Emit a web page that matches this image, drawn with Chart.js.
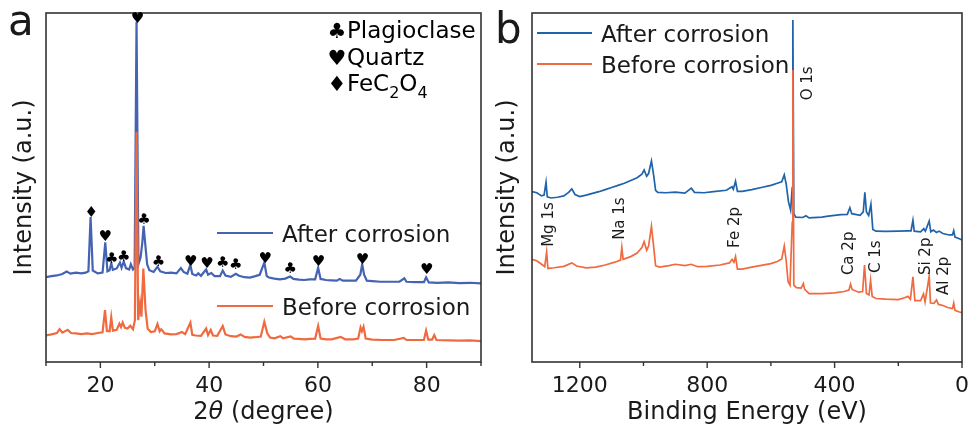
<!DOCTYPE html>
<html>
<head>
<meta charset="utf-8">
<script src="https://cdn.jsdelivr.net/npm/chart.js@4.4.1/dist/chart.umd.min.js"></script>
<style>
  html, body { margin: 0; padding: 0; background: #fff; }
  #wrap { position: relative; width: 972px; height: 425px; overflow: hidden; }
  .panel { position: absolute; top: 0; width: 486px; height: 425px; }
</style>
</head>
<body>
<div id="wrap">
  <div class="panel" style="left:0"><canvas id="xrd" width="486" height="425"></canvas></div>
  <div class="panel" style="left:486px"><canvas id="xps" width="486" height="425"></canvas></div>
</div>
<script>
// ---- (a) XRD data, 2theta (degree) vs intensity (a.u., offset traces)
const xrdAfterX = [10, 11, 12, 13, 13.8, 14.5, 15.5, 16.5, 17.3, 17.8, 18.2, 18.6, 19.5, 20.4, 20.9, 21.3, 21.7, 22.0, 22.3, 23.0,
  23.6, 23.9, 24.3, 24.7, 25.3, 25.6, 26.0, 26.3, 26.65, 27.0, 27.4, 27.7, 27.95, 28.3, 28.6, 29.0, 29.8, 30.5, 31.0, 32.0,
  33.0, 34.0, 34.8, 35.3, 36.0, 36.55, 36.9, 37.6, 38.0, 38.5, 39.45, 39.8, 40.4, 41.0, 42.0, 42.5, 43.0, 44.0, 44.9, 45.5,
  46.5, 47.5, 48.5, 49.3, 50.15, 50.6, 51.0, 52.0, 53.0, 54.0, 54.9, 55.5, 56.5, 57.5, 58.5, 59.5, 60.05, 60.5, 61.5, 62.5,
  63.5, 64.0, 64.6, 66.0, 67.0, 67.8, 68.15, 68.5, 69.0, 70.0, 71.5, 73.0, 75.0, 75.9, 76.3, 78.0, 79.5, 79.9, 80.4, 82.0,
  84.0, 86.0, 88.0, 90.0];
const xrdAfterY = [24.3, 24.6, 24.8, 25.2, 25.9, 25.3, 25.6, 25.4, 25.6, 26.0, 41.5, 26.2, 25.4, 25.6, 34.3, 26.0, 26.3, 28.3, 26.4, 26.8,
  28.5, 27.0, 28.8, 26.9, 26.5, 28.0, 26.5, 27.0, 97.5, 28.0, 30.0, 34.0, 39.0, 33.0, 28.0, 26.3, 25.8, 27.3, 26.0, 25.5,
  25.6, 25.4, 26.9, 25.8, 25.3, 27.8, 25.2, 24.8, 25.4, 24.7, 26.5, 25.0, 25.5, 24.6, 24.6, 26.2, 24.8, 24.4, 25.3, 24.7,
  24.3, 24.2, 24.6, 25.0, 28.5, 24.6, 24.2, 23.9, 23.7, 23.9, 24.5, 23.8, 23.6, 23.5, 23.7, 23.7, 27.0, 23.8, 23.5, 23.4,
  23.3, 23.8, 23.3, 23.3, 23.3, 25.0, 28.0, 25.0, 23.3, 23.2, 23.0, 23.0, 23.0, 24.0, 23.0, 22.9, 22.9, 24.3, 22.8, 22.7,
  22.8, 22.6, 22.7, 22.5];
const xrdBeforeX = [10, 11, 12, 12.5, 13.0, 14.0, 14.6, 15.5, 16.5, 17.5, 18.5, 19.5, 20.4, 20.85, 21.2, 21.7, 22.0, 22.3, 23.0, 23.5,
  23.8, 24.1, 24.5, 25.0, 25.5, 26.0, 26.35, 26.65, 26.95, 27.3, 27.55, 27.9, 28.3, 28.7, 29.3, 30.0, 30.5, 30.9, 31.2, 31.8,
  33.0, 34.0, 35.0, 35.6, 36.55, 36.9, 37.5, 38.5, 39.45, 39.8, 40.3, 40.7, 41.5, 42.5, 43.0, 44.0, 45.0, 45.8, 46.5, 47.5,
  48.5, 49.5, 50.15, 50.7, 51.2, 52.0, 53.1, 53.6, 55.0, 55.6, 56.5, 57.5, 58.5, 59.5, 60.05, 60.5, 61.5, 62.5, 64.2, 65.0,
  66.5, 67.4, 67.85, 68.1, 68.4, 68.8, 70.0, 72.0, 74.0, 75.8, 76.3, 78.0, 79.5, 79.9, 80.3, 81.0, 81.4, 81.8, 84.0, 86.0,
  88.0, 90.0];
const xrdBeforeY = [7.6, 7.9, 8.3, 9.4, 8.4, 9.2, 8.3, 8.2, 8.0, 8.2, 8.0, 8.3, 8.5, 14.9, 8.9, 8.8, 12.8, 9.0, 9.2, 11.0,
  10.0, 11.3, 9.8, 9.6, 10.4, 9.4, 12.0, 66.0, 12.0, 16.8, 13.0, 26.8, 15.0, 9.5, 8.6, 8.8, 10.9, 8.8, 9.4, 8.2,
  7.9, 8.0, 8.6, 8.0, 11.3, 7.8, 7.6, 7.5, 9.6, 7.7, 9.2, 7.6, 7.5, 10.3, 7.9, 7.4, 7.3, 7.9, 7.2, 7.0,
  7.1, 7.3, 11.5, 8.2, 7.0, 6.8, 7.4, 6.8, 7.3, 6.7, 6.6, 6.5, 6.6, 6.7, 10.3, 6.7, 6.5, 6.5, 7.2, 6.5,
  6.5, 6.7, 9.9, 8.8, 10.1, 6.7, 6.4, 6.3, 6.3, 6.9, 6.3, 6.3, 6.3, 9.0, 6.4, 6.4, 7.7, 6.3, 6.2, 6.1,
  6.2, 6.0];
// phase markers above the "after corrosion" peaks
const xrdMarkAngle = [26.8, 18.3, 20.9, 22.1, 24.3, 28.0, 30.7, 36.6, 39.6, 42.5, 44.9, 50.3, 54.9, 60.1, 68.2, 80.0];
const xrdMarkY     = [98.2, 42.6, 35.7, 29.4, 30.0, 40.7, 28.5, 28.7, 28.0, 28.3, 27.8, 29.4, 26.6, 28.7, 29.2, 26.4];
const xrdMarkSym   = ["♥", "♦", "♥", "♣", "♣", "♣", "♣", "♥", "♥", "♣", "♣", "♥", "♣", "♥", "♥", "♥"];
const xrdMajorTicks = [20, 40, 60, 80];
const xrdMinorTicks = [10, 30, 50, 70, 90];

// ---- (b) XPS survey, binding energy (eV) vs intensity
const xpsAfterBE = [1350, 1335, 1320, 1312, 1306, 1302, 1290, 1270, 1250, 1235, 1225, 1215, 1200, 1180, 1160, 1140, 1120, 1100, 1080, 1060,
  1040, 1020, 1005, 998, 990, 984, 975, 968, 962, 955, 930, 900, 870, 850, 840, 810, 780, 740, 722, 718,
  711, 705, 690, 660, 630, 600, 580, 566, 558, 552, 545, 538, 533, 531, 528, 522, 500, 490, 480, 440,
  420, 400, 380, 360, 352, 346, 320, 310, 305, 300, 293, 286, 280, 270, 240, 200, 170, 160, 154, 150,
  130, 120, 115, 103, 98, 90, 80, 72, 60, 40, 30, 26, 22, 10, 0];
const xpsAfterY = [48.8, 48.5, 47.6, 47.8, 51.5, 47.3, 47.0, 47.2, 47.6, 48.6, 49.6, 48.0, 47.4, 47.8, 48.3, 48.8, 49.4, 50.0, 50.6, 51.2,
  52.0, 52.8, 53.8, 55.0, 53.2, 54.0, 57.6, 53.5, 49.2, 48.6, 48.5, 48.7, 48.4, 49.8, 48.6, 48.5, 48.8, 49.2, 50.2, 49.5,
  51.8, 48.9, 48.9, 49.4, 50.0, 50.6, 51.2, 51.6, 53.6, 51.0, 46.0, 43.5, 50.0, 98.0, 42.5, 41.5, 41.4, 41.9, 41.3, 41.5,
  41.8, 42.0, 42.2, 42.3, 44.2, 42.5, 42.0, 43.0, 48.6, 43.0, 42.0, 45.2, 38.0, 37.5, 37.4, 37.5, 37.6, 37.6, 40.6, 37.5,
  37.3, 38.2, 37.5, 40.4, 37.3, 37.8, 37.1, 37.5, 36.8, 36.4, 36.4, 37.6, 35.8, 35.4, 35.0];
const xpsBeforeBE = [1350, 1335, 1320, 1310, 1304, 1300, 1280, 1250, 1225, 1210, 1180, 1150, 1120, 1090, 1072, 1068, 1064, 1040, 1020, 1005,
  998, 990, 984, 975, 968, 962, 950, 920, 900, 870, 850, 830, 800, 760, 730, 722, 716, 711, 705, 690,
  660, 630, 600, 580, 566, 558, 552, 546, 540, 533, 531, 528, 520, 505, 498, 494, 480, 440, 400, 370,
  355, 350, 345, 325, 312, 306, 300, 292, 287, 282, 270, 240, 200, 180, 170, 162, 154, 148, 130, 121,
  116, 103, 99, 88, 80, 74, 60, 45, 30, 26, 22, 10, 0];
const xpsBeforeY = [29.4, 29.0, 28.0, 27.3, 31.5, 26.8, 27.0, 27.4, 28.4, 27.5, 27.0, 27.2, 27.8, 28.6, 29.2, 32.8, 29.4, 30.2, 31.2, 32.8,
  34.5, 32.0, 33.2, 38.9, 33.0, 27.6, 27.2, 27.6, 28.0, 27.6, 28.0, 27.3, 27.4, 27.8, 28.4, 29.4, 28.6, 30.2, 26.6, 26.6,
  27.2, 27.7, 28.2, 28.8, 29.5, 33.2, 29.0, 23.0, 22.0, 40.0, 83.7, 22.0, 21.3, 21.2, 22.5, 20.8, 19.6, 19.6, 19.8, 20.2,
  20.6, 22.3, 20.8, 20.0, 20.2, 27.8, 19.6, 19.2, 23.4, 18.8, 18.2, 18.0, 17.9, 18.4, 18.8, 18.0, 24.4, 17.6, 17.6, 19.5,
  17.2, 24.6, 16.9, 16.8, 17.8, 16.5, 16.2, 15.6, 15.3, 16.9, 14.8, 14.4, 14.1];
// core-level labels (text starts at BE / intensity, reads upward)
const xpsLabelText = ["Mg 1s", "Na 1s", "Fe 2p", "O 1s", "Ca 2p", "C 1s", "Si 2p", "Al 2p"];
const xpsLabelBE   = [1297, 1074, 711, 482, 353, 270, 114, 57];
const xpsLabelY    = [33.0, 35.0, 32.7, 75.0, 24.9, 25.5, 24.9, 19.2];
const xpsMajorTicks = [1200, 800, 400, 0];
const xpsMinorTicks = [1000, 600, 200];

const FONT = '"DejaVu Sans", Verdana, sans-serif';
const INK = "#1a1a1a";
const BLUE_A = "#4463b3";
const BLUE_B = "#1f63aa";
const ORANGE = "#f06a40";

const toPoints = (xs, ys) => xs.map((x, i) => ({ x: x, y: ys[i] }));

// frame, tick marks and the texts around a panel
const drawFrame = (chart, majors, minors) => {
  const ctx = chart.ctx;
  const a = chart.chartArea;
  const sx = chart.scales.x;
  ctx.save();
  ctx.strokeStyle = "#333";
  ctx.lineWidth = 1.6;
  ctx.strokeRect(a.left, a.top, a.right - a.left, a.bottom - a.top);
  ctx.lineWidth = 1.4;
  majors.forEach((v) => {
    const px = sx.getPixelForValue(v);
    ctx.beginPath(); ctx.moveTo(px, a.bottom); ctx.lineTo(px, a.bottom + 6); ctx.stroke();
  });
  minors.forEach((v) => {
    const px = sx.getPixelForValue(v);
    ctx.beginPath(); ctx.moveTo(px, a.bottom); ctx.lineTo(px, a.bottom + 4); ctx.stroke();
  });
  ctx.restore();
};

const drawYTitle = (chart, x) => {
  const ctx = chart.ctx;
  const a = chart.chartArea;
  ctx.save();
  ctx.fillStyle = INK;
  ctx.font = "24px " + FONT;
  ctx.translate(x, (a.top + a.bottom) / 2);
  ctx.rotate(-Math.PI / 2);
  ctx.textAlign = "center";
  ctx.textBaseline = "alphabetic";
  ctx.fillText("Intensity (a.u.)", 0, 0);
  ctx.restore();
};

const legendLine = (ctx, x0, x1, y, color, text) => {
  ctx.strokeStyle = color;
  ctx.lineWidth = 1.8;
  ctx.beginPath(); ctx.moveTo(x0, y); ctx.lineTo(x1, y); ctx.stroke();
  ctx.fillStyle = INK;
  ctx.font = "23px " + FONT;
  ctx.textAlign = "left";
  ctx.textBaseline = "alphabetic";
  ctx.fillText(text, x1 + 9, y + 9);
};

const xrdDecor = {
  id: "xrdDecor",
  afterDraw(chart) {
    const ctx = chart.ctx;
    const sx = chart.scales.x, sy = chart.scales.y;
    drawFrame(chart, xrdMajorTicks, xrdMinorTicks);
    ctx.save();
    // phase markers
    ctx.fillStyle = "#000";
    ctx.font = "15px " + FONT;
    ctx.textAlign = "center";
    ctx.textBaseline = "middle";
    xrdMarkAngle.forEach((v, i) => {
      ctx.fillText(xrdMarkSym[i], sx.getPixelForValue(v), sy.getPixelForValue(xrdMarkY[i]));
    });
    // symbol key
    ctx.textBaseline = "alphabetic";
    ctx.font = "21px " + FONT;
    ctx.fillText("♣", 337, 38);
    ctx.fillText("♥", 337, 65);
    ctx.fillText("♦", 337, 91);
    ctx.textAlign = "left";
    ctx.font = "23px " + FONT;
    ctx.fillText("Plagioclase", 347, 38);
    ctx.fillText("Quartz", 347, 65);
    let x = 347;
    ctx.fillText("FeC", x, 91); x += ctx.measureText("FeC").width;
    ctx.font = "16px " + FONT;
    ctx.fillText("2", x, 98); x += ctx.measureText("2").width;
    ctx.font = "23px " + FONT;
    ctx.fillText("O", x, 91); x += ctx.measureText("O").width;
    ctx.font = "16px " + FONT;
    ctx.fillText("4", x, 98);
    // series key
    legendLine(ctx, 217, 273, 233, BLUE_A, "After corrosion");
    legendLine(ctx, 217, 273, 306, ORANGE, "Before corrosion");
    // x title with italic theta
    ctx.fillStyle = INK;
    ctx.textBaseline = "alphabetic";
    const parts = [["2", "24px "], ["θ", "italic 24px "], [" (degree)", "24px "]];
    let w = 0;
    parts.forEach((p) => { ctx.font = p[1] + FONT; w += ctx.measureText(p[0]).width; });
    const a = chart.chartArea;
    x = (a.left + a.right) / 2 - w / 2;
    parts.forEach((p) => { ctx.font = p[1] + FONT; ctx.fillText(p[0], x, 419); x += ctx.measureText(p[0]).width; });
    // panel letter
    ctx.font = "42px " + FONT;
    ctx.fillText("a", 8, 35);
    ctx.restore();
    drawYTitle(chart, 31);
  },
};

const xpsDecor = {
  id: "xpsDecor",
  afterDraw(chart) {
    const ctx = chart.ctx;
    const sx = chart.scales.x, sy = chart.scales.y;
    const a = chart.chartArea;
    drawFrame(chart, xpsMajorTicks, xpsMinorTicks);
    ctx.save();
    ctx.fillStyle = INK;
    ctx.font = "15px " + FONT;
    xpsLabelText.forEach((t, i) => {
      ctx.save();
      ctx.translate(sx.getPixelForValue(xpsLabelBE[i]), sy.getPixelForValue(xpsLabelY[i]));
      ctx.rotate(-Math.PI / 2);
      ctx.textAlign = "left";
      ctx.textBaseline = "middle";
      ctx.fillText(t, 0, 0);
      ctx.restore();
    });
    legendLine(ctx, 51, 106, 33, BLUE_B, "After corrosion");
    legendLine(ctx, 51, 106, 64, ORANGE, "Before corrosion");
    ctx.fillStyle = INK;
    ctx.font = "24px " + FONT;
    ctx.textAlign = "center";
    ctx.textBaseline = "alphabetic";
    ctx.fillText("Binding Energy (eV)", (a.left + a.right) / 2, 419);
    ctx.textAlign = "left";
    ctx.font = "42px " + FONT;
    ctx.fillText("b", 9, 43);
    ctx.restore();
    drawYTitle(chart, 28);
  },
};

const baseTicks = {
  autoSkip: false,
  includeBounds: false,
  maxRotation: 0,
  padding: 3,
  color: INK,
  font: { family: FONT, size: 22 },
};

new Chart(document.getElementById("xrd"), {
  type: "line",
  data: {
    datasets: [
      { label: "Before corrosion", data: toPoints(xrdBeforeX, xrdBeforeY), borderColor: ORANGE, borderWidth: 2.2, pointRadius: 0, order: 0 },
      { label: "After corrosion", data: toPoints(xrdAfterX, xrdAfterY), borderColor: BLUE_A, borderWidth: 2.2, pointRadius: 0, order: 1 },
    ],
  },
  options: {
    responsive: false,
    animation: false,
    devicePixelRatio: 1,
    layout: { padding: { left: 46, top: 13, right: 5, bottom: 0 } },
    plugins: { legend: { display: false }, tooltip: { enabled: false } },
    scales: {
      x: {
        type: "linear", min: 10, max: 90,
        grid: { display: false }, border: { display: false },
        ticks: Object.assign({}, baseTicks, {
          stepSize: 10,
          callback: (v) => (xrdMajorTicks.includes(v) ? String(v) : ""),
        }),
        afterFit: (s) => { s.height = 63; },
      },
      y: { display: false, min: 0, max: 100 },
    },
  },
  plugins: [xrdDecor],
});

new Chart(document.getElementById("xps"), {
  type: "line",
  data: {
    datasets: [
      { label: "Before corrosion", data: toPoints(xpsBeforeBE, xpsBeforeY), borderColor: ORANGE, borderWidth: 1.7, pointRadius: 0, order: 0 },
      { label: "After corrosion", data: toPoints(xpsAfterBE, xpsAfterY), borderColor: BLUE_B, borderWidth: 1.7, pointRadius: 0, order: 1 },
    ],
  },
  options: {
    responsive: false,
    animation: false,
    devicePixelRatio: 1,
    layout: { padding: { left: 46, top: 13, right: 7, bottom: 0 } },
    plugins: { legend: { display: false }, tooltip: { enabled: false } },
    scales: {
      x: {
        type: "linear", min: 0, max: 1350, reverse: true,
        grid: { display: false }, border: { display: false },
        ticks: Object.assign({}, baseTicks, {
          stepSize: 200,
          callback: (v) => (xpsMajorTicks.includes(v) ? String(v) : ""),
        }),
        afterFit: (s) => { s.height = 63; },
      },
      y: { display: false, min: 0, max: 100 },
    },
  },
  plugins: [xpsDecor],
});
</script>
</body>
</html>
